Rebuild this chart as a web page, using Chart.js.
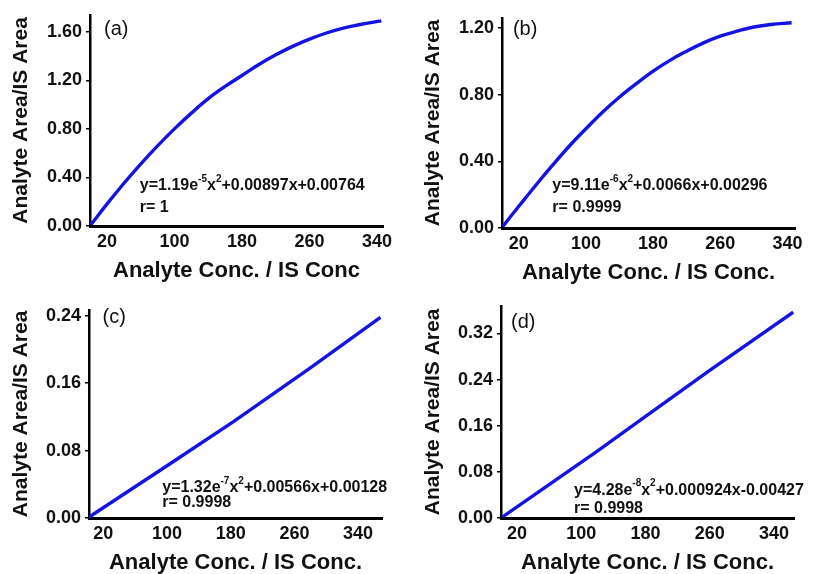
<!DOCTYPE html>
<html>
<head>
<meta charset="utf-8">
<script src="https://cdn.jsdelivr.net/npm/chart.js@4.4.1/dist/chart.umd.min.js"></script>
<style>
    body { margin: 0; background: #fff; }
    .panel { position: absolute; }
</style>
</head>
<body>
<div class="panel" style="left:0px;top:0px"><canvas id="chartA" width="403" height="284"></canvas></div>
<div class="panel" style="left:412px;top:3px"><canvas id="chartB" width="403" height="283"></canvas></div>
<div class="panel" style="left:0px;top:295px"><canvas id="chartC" width="402" height="281"></canvas></div>
<div class="panel" style="left:412px;top:291px"><canvas id="chartD" width="402" height="285"></canvas></div>
<script>
    'use strict';

    var FONT = "'Liberation Sans', Arial, sans-serif";
    var LINE_COLOR = '#1414e2';

    // shared x tick labels
    var xTicks = [20, 100, 180, 260, 340];

    // (a)
    var concA = [1, 20, 40, 60, 80, 100, 120, 140, 160, 180, 200, 220, 240, 260, 280, 300, 320, 345];
    var ratioA = [0.01, 0.18, 0.35, 0.51, 0.66, 0.80, 0.93, 1.05, 1.15, 1.24, 1.33, 1.41, 1.48, 1.54, 1.59, 1.63, 1.66, 1.69];
    var yTicksA = [0, 0.4, 0.8, 1.2, 1.6];

    // (b)
    var concB = [1, 20, 40, 60, 80, 100, 120, 140, 160, 180, 200, 220, 240, 260, 280, 300, 320, 345];
    var ratioB = [0.01, 0.13, 0.255, 0.375, 0.49, 0.595, 0.695, 0.785, 0.865, 0.94, 1.005, 1.06, 1.11, 1.15, 1.18, 1.205, 1.22, 1.23];
    var yTicksB = [0, 0.4, 0.8, 1.2];

    // (c)
    var concC = [2, 100, 183, 280, 368];
    var ratioC = [0.001, 0.062, 0.114, 0.178, 0.238];
    var yTicksC = [0, 0.08, 0.16, 0.24];

    // (d)
    var concD = [2, 120, 174, 260, 364];
    var ratioD = [0.002, 0.116, 0.170, 0.256, 0.357];
    var yTicksD = [0, 0.08, 0.16, 0.24, 0.32];

    function toPoints(xs, ys) {
        return xs.map(function(x, i) {
            return { x: x, y: ys[i] };
        });
    }

    // draws the panel letter, the fit equation and r value inside the plot
    var notesPlugin = {
        id: 'notes',
        afterDatasetsDraw: function(chart, args, opts) {
            var ctx = chart.ctx,
                xs = chart.scales.x,
                ys = chart.scales.y;
            (opts.items || []).forEach(function(item) {
                var px = xs.getPixelForValue(item.x),
                    py = ys.getPixelForValue(item.y);
                ctx.save();
                ctx.fillStyle = '#111';
                ctx.textAlign = 'left';
                ctx.textBaseline = 'middle';
                item.parts.forEach(function(p) {
                    var size = p.sup ? Math.round(item.size * 0.62) : item.size;
                    ctx.font = item.weight + ' ' + size + 'px ' + FONT;
                    ctx.fillText(p.t, px, p.sup ? py - item.size * 0.42 : py);
                    px += ctx.measureText(p.t).width;
                });
                ctx.restore();
            });
        }
    };

    function makePanel(id, cfg) {
        return new Chart(document.getElementById(id), {
            type: 'line',
            data: {
                datasets: [{
                    data: toPoints(cfg.xs, cfg.ys),
                    borderColor: LINE_COLOR,
                    borderWidth: 3.4,
                    pointRadius: 0,
                    fill: false,
                    tension: cfg.tension
                }]
            },
            options: {
                responsive: false,
                animation: false,
                events: [],
                layout: {
                    padding: { top: 12, right: 20, left: 0, bottom: 0 }
                },
                plugins: {
                    legend: { display: false },
                    tooltip: { enabled: false },
                    notes: { items: cfg.notes }
                },
                scales: {
                    x: {
                        type: 'linear',
                        min: cfg.xMin,
                        max: cfg.xMax,
                        afterBuildTicks: function(scale) {
                            scale.ticks = xTicks.map(function(v) { return { value: v }; });
                        },
                        afterFit: function(scale) {
                            scale.height = 58;
                        },
                        border: { display: true, color: '#000', width: 3 },
                        grid: { display: true, drawOnChartArea: false, drawTicks: false },
                        ticks: {
                            autoSkip: false,
                            maxRotation: 0,
                            padding: 5,
                            color: '#111',
                            font: { family: FONT, size: 18, weight: 'bold' },
                            callback: function(v) { return String(v); }
                        },
                        title: {
                            display: true,
                            text: cfg.xTitle,
                            color: '#111',
                            padding: { top: 4, bottom: 0 },
                            font: { family: FONT, size: 22, weight: 'bold' }
                        }
                    },
                    y: {
                        min: 0,
                        max: cfg.yMax,
                        afterBuildTicks: function(scale) {
                            scale.ticks = cfg.yTicks.map(function(v) { return { value: v }; });
                        },
                        afterFit: function(scale) {
                            scale.width = cfg.yWidth;
                        },
                        border: { display: true, color: '#000', width: 2.5 },
                        grid: { display: true, drawOnChartArea: false, drawTicks: true, tickLength: 4, color: '#000', lineWidth: 1.5 },
                        ticks: {
                            autoSkip: false,
                            padding: 4,
                            color: '#111',
                            font: { family: FONT, size: 18, weight: 'bold' },
                            callback: function(v) { return v.toFixed(2); }
                        },
                        title: {
                            display: true,
                            text: 'Analyte Area/IS Area',
                            color: '#111',
                            padding: { top: 9, bottom: 0 },
                            font: { family: FONT, size: 21, weight: 'bold' }
                        }
                    }
                }
            },
            plugins: [notesPlugin]
        });
    }

    makePanel('chartA', {
        xs: concA, ys: ratioA, yTicks: yTicksA, tension: 0.4,
        xMin: 0, xMax: 347, yMax: 1.74, yWidth: 90,
        xTitle: 'Analyte Conc. / IS Conc',
        notes: [
            { x: 16.6, y: 1.62, size: 20, weight: 'normal', parts: [{ t: '(a)' }] },
            { x: 59, y: 0.333, size: 16, weight: 'bold', parts: [
                { t: 'y=1.19e' }, { t: '-5', sup: true }, { t: 'x' }, { t: '2', sup: true }, { t: '+0.00897x+0.00764' }] },
            { x: 59, y: 0.154, size: 16, weight: 'bold', parts: [{ t: 'r= 1' }] }
        ]
    });

    makePanel('chartB', {
        xs: concB, ys: ratioB, yTicks: yTicksB, tension: 0.4,
        xMin: 0, xMax: 349, yMax: 1.26, yWidth: 90,
        xTitle: 'Analyte Conc. / IS Conc.',
        notes: [
            { x: 13, y: 1.19, size: 20, weight: 'normal', parts: [{ t: '(b)' }] },
            { x: 60, y: 0.254, size: 16, weight: 'bold', parts: [
                { t: 'y=9.11e' }, { t: '-6', sup: true }, { t: 'x' }, { t: '2', sup: true }, { t: '+0.0066x+0.00296' }] },
            { x: 60, y: 0.124, size: 16, weight: 'bold', parts: [{ t: 'r= 0.9999' }] }
        ]
    });

    makePanel('chartC', {
        xs: concC, ys: ratioC, yTicks: yTicksC, tension: 0,
        xMin: 2, xMax: 370, yMax: 0.247, yWidth: 89,
        xTitle: 'Analyte Conc. / IS Conc.',
        notes: [
            { x: 19, y: 0.238, size: 20, weight: 'normal', parts: [{ t: '(c)' }] },
            { x: 94, y: 0.036, size: 16, weight: 'bold', parts: [
                { t: 'y=1.32e' }, { t: '-7', sup: true }, { t: 'x' }, { t: '2', sup: true }, { t: '+0.00566x+0.00128' }] },
            { x: 94, y: 0.018, size: 16, weight: 'bold', parts: [{ t: 'r= 0.9998' }] }
        ]
    });

    makePanel('chartD', {
        xs: concD, ys: ratioD, yTicks: yTicksD, tension: 0,
        xMin: 0, xMax: 365, yMax: 0.368, yWidth: 89,
        xTitle: 'Analyte Conc. / IS Conc.',
        notes: [
            { x: 12.5, y: 0.339, size: 20, weight: 'normal', parts: [{ t: '(d)' }] },
            { x: 91, y: 0.048, size: 16, weight: 'bold', parts: [
                { t: 'y=4.28e' }, { t: '-8', sup: true }, { t: 'x' }, { t: '2', sup: true }, { t: '+0.000924x-0.00427' }] },
            { x: 91, y: 0.017, size: 16, weight: 'bold', parts: [{ t: 'r= 0.9998' }] }
        ]
    });
</script>
</body>
</html>
